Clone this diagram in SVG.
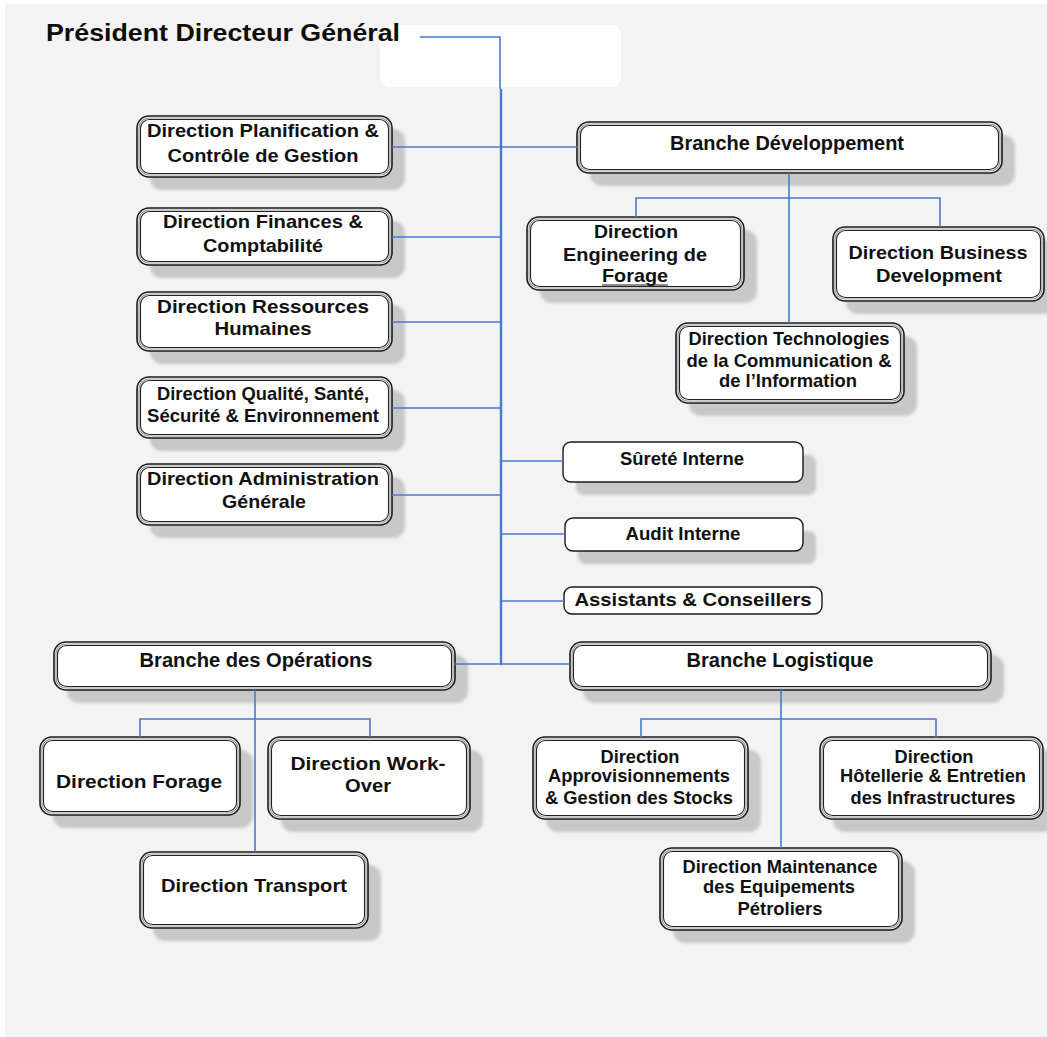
<svg xmlns="http://www.w3.org/2000/svg" width="1047" height="1037" viewBox="0 0 1047 1037">
<defs>
<filter id="blur" x="-10%" y="-10%" width="120%" height="130%"><feGaussianBlur stdDeviation="1.5"/></filter>
<style>
.bg{fill:#f3f3f3}
.sh{fill:#c8c8c8;filter:url(#blur)}
.o{fill:#fff;stroke:#1a1a1a;stroke-width:1.6}
.m{fill:none;stroke:#9a9a9a;stroke-width:1.2}
.i{fill:none;stroke:#222;stroke-width:1.1}
.s{fill:#fff;stroke:#1a1a1a;stroke-width:1.4}
text{font-family:"Liberation Sans",Arial,sans-serif;font-weight:bold;fill:#111;text-anchor:middle;font-size:18.5px}
.t{font-size:23px;text-anchor:start;fill:#0d0d0d}
.b{font-size:19.5px}
.c{fill:none;stroke:#4a7acb;stroke-width:1.6}
.tr{fill:none;stroke:#4a7acb;stroke-width:2.4}
</style>
</defs>
<rect x="0" y="0" width="1047" height="1037" fill="#fff"/>
<rect class="bg" x="5" y="4" width="1042" height="1033"/>
<rect x="380" y="25" width="241" height="62" rx="9" fill="#fff"/>

<text class="t" x="46" y="41" textLength="354" lengthAdjust="spacingAndGlyphs">Président Directeur Général</text>

<g id="planification">
<rect class="sh" x="150" y="129" width="255" height="61" rx="12"/>
<rect class="o" x="137" y="116" width="255" height="61" rx="12"/>
<rect class="m" x="139" y="118" width="251" height="57" rx="10"/>
<rect class="i" x="140.5" y="119.5" width="248" height="54" rx="9"/>
<text x="263" y="137" textLength="232" lengthAdjust="spacingAndGlyphs">Direction Planification &amp;</text>
<text x="263" y="162" textLength="191" lengthAdjust="spacingAndGlyphs">Contrôle de Gestion</text>
</g>

<g id="finances">
<rect class="sh" x="150" y="221" width="255" height="57" rx="12"/>
<rect class="o" x="137" y="208" width="255" height="57" rx="12"/>
<rect class="m" x="139" y="210" width="251" height="53" rx="10"/>
<rect class="i" x="140.5" y="211.5" width="248" height="50" rx="9"/>
<text x="263" y="228" textLength="200" lengthAdjust="spacingAndGlyphs">Direction Finances &amp;</text>
<text x="263" y="252" textLength="120" lengthAdjust="spacingAndGlyphs">Comptabilité</text>
</g>

<g id="ressources-humaines">
<rect class="sh" x="150" y="305" width="255" height="59" rx="12"/>
<rect class="o" x="137" y="292" width="255" height="59" rx="12"/>
<rect class="m" x="139" y="294" width="251" height="55" rx="10"/>
<rect class="i" x="140.5" y="295.5" width="248" height="52" rx="9"/>
<text x="263" y="313" textLength="212" lengthAdjust="spacingAndGlyphs">Direction  Ressources</text>
<text x="263" y="335" textLength="97" lengthAdjust="spacingAndGlyphs">Humaines</text>
</g>

<g id="qsse">
<rect class="sh" x="150" y="390" width="255" height="61" rx="12"/>
<rect class="o" x="137" y="377" width="255" height="61" rx="12"/>
<rect class="m" x="139" y="379" width="251" height="57" rx="10"/>
<rect class="i" x="140.5" y="380.5" width="248" height="54" rx="9"/>
<text x="263" y="400" textLength="212" lengthAdjust="spacingAndGlyphs">Direction Qualité, Santé,</text>
<text x="263" y="422" textLength="232" lengthAdjust="spacingAndGlyphs">Sécurité &amp; Environnement</text>
</g>

<g id="administration">
<rect class="sh" x="150" y="477" width="255" height="61" rx="12"/>
<rect class="o" x="137" y="464" width="255" height="61" rx="12"/>
<rect class="m" x="139" y="466" width="251" height="57" rx="10"/>
<rect class="i" x="140.5" y="467.5" width="248" height="54" rx="9"/>
<text x="263" y="485" textLength="232" lengthAdjust="spacingAndGlyphs">Direction Administration</text>
<text x="264" y="508" textLength="84" lengthAdjust="spacingAndGlyphs">Générale</text>
</g>

<g id="branche-developpement">
<rect class="sh" x="590" y="135" width="425" height="51" rx="12"/>
<rect class="o" x="577" y="122" width="425" height="51" rx="12"/>
<rect class="m" x="579" y="124" width="421" height="47" rx="10"/>
<rect class="i" x="580.5" y="125.5" width="418" height="44" rx="9"/>
<text class="b" x="787" y="150" textLength="234" lengthAdjust="spacingAndGlyphs">Branche Développement</text>
</g>

<g id="engineering-forage">
<rect class="sh" x="540" y="230" width="217" height="73" rx="12"/>
<rect class="o" x="527" y="217" width="217" height="73" rx="12"/>
<rect class="m" x="529" y="219" width="213" height="69" rx="10"/>
<rect class="i" x="530.5" y="220.5" width="210" height="66" rx="9"/>
<text x="636" y="238" textLength="84" lengthAdjust="spacingAndGlyphs">Direction</text>
<text x="635" y="261" textLength="144" lengthAdjust="spacingAndGlyphs">Engineering de</text>
<text x="635" y="282" textLength="66" lengthAdjust="spacingAndGlyphs">Forage</text>
<line x1="602" y1="285" x2="668" y2="285" stroke="#1a1a1a" stroke-width="1.2"/>
</g>

<g id="business-development">
<rect class="sh" x="846" y="240" width="211" height="74" rx="12"/>
<rect class="o" x="833" y="227" width="211" height="74" rx="12"/>
<rect class="m" x="835" y="229" width="207" height="70" rx="10"/>
<rect class="i" x="836.5" y="230.5" width="204" height="67" rx="9"/>
<text x="938" y="259" textLength="179" lengthAdjust="spacingAndGlyphs">Direction Business</text>
<text x="939" y="282" textLength="126" lengthAdjust="spacingAndGlyphs">Development</text>
</g>

<g id="technologies">
<rect class="sh" x="689" y="336" width="228" height="80" rx="12"/>
<rect class="o" x="676" y="323" width="228" height="80" rx="12"/>
<rect class="m" x="678" y="325" width="224" height="76" rx="10"/>
<rect class="i" x="679.5" y="326.5" width="221" height="73" rx="9"/>
<text x="789" y="345" textLength="201" lengthAdjust="spacingAndGlyphs">Direction Technologies</text>
<text x="789" y="367" textLength="205" lengthAdjust="spacingAndGlyphs">de la Communication &amp;</text>
<text x="788" y="387" textLength="138" lengthAdjust="spacingAndGlyphs">de l’Information</text>
</g>

<g id="surete-interne">
<rect class="sh" x="576" y="455" width="240" height="40" rx="8"/>
<rect class="s" x="563" y="442" width="240" height="40" rx="8"/>
<text x="682" y="465" textLength="124" lengthAdjust="spacingAndGlyphs">Sûreté Interne</text>
</g>

<g id="audit-interne">
<rect class="sh" x="578" y="531" width="238" height="33" rx="8"/>
<rect class="s" x="565" y="518" width="238" height="33" rx="8"/>
<text x="683" y="540" textLength="115" lengthAdjust="spacingAndGlyphs">Audit Interne</text>
</g>

<g id="assistants-conseillers">
<rect class="s" x="564" y="587" width="258" height="27" rx="8"/>
<text x="693" y="606" textLength="237" lengthAdjust="spacingAndGlyphs">Assistants &amp; Conseillers</text>
</g>

<g id="branche-operations">
<rect class="sh" x="67" y="655" width="401" height="48" rx="12"/>
<rect class="o" x="54" y="642" width="401" height="48" rx="12"/>
<rect class="m" x="56" y="644" width="397" height="44" rx="10"/>
<rect class="i" x="57.5" y="645.5" width="394" height="41" rx="9"/>
<text class="b" x="256" y="667" textLength="233" lengthAdjust="spacingAndGlyphs">Branche des Opérations</text>
</g>

<g id="branche-logistique">
<rect class="sh" x="583" y="655" width="421" height="48" rx="12"/>
<rect class="o" x="570" y="642" width="421" height="48" rx="12"/>
<rect class="m" x="572" y="644" width="417" height="44" rx="10"/>
<rect class="i" x="573.5" y="645.5" width="414" height="41" rx="9"/>
<text class="b" x="780" y="667" textLength="187" lengthAdjust="spacingAndGlyphs">Branche Logistique</text>
</g>

<g id="direction-forage">
<rect class="sh" x="53" y="750" width="200" height="78" rx="12"/>
<rect class="o" x="40" y="737" width="200" height="78" rx="12"/>
<rect class="m" x="42" y="739" width="196" height="74" rx="10"/>
<rect class="i" x="43.5" y="740.5" width="193" height="71" rx="9"/>
<text x="139" y="788" textLength="166" lengthAdjust="spacingAndGlyphs">Direction  Forage</text>
</g>

<g id="direction-work-over">
<rect class="sh" x="281" y="750" width="202" height="82" rx="12"/>
<rect class="o" x="268" y="737" width="202" height="82" rx="12"/>
<rect class="m" x="270" y="739" width="198" height="78" rx="10"/>
<rect class="i" x="271.5" y="740.5" width="195" height="75" rx="9"/>
<text x="368" y="770" textLength="155" lengthAdjust="spacingAndGlyphs">Direction  Work-</text>
<text x="368" y="792" textLength="46" lengthAdjust="spacingAndGlyphs">Over</text>
</g>

<g id="direction-transport">
<rect class="sh" x="153" y="865" width="228" height="76" rx="12"/>
<rect class="o" x="140" y="852" width="228" height="76" rx="12"/>
<rect class="m" x="142" y="854" width="224" height="72" rx="10"/>
<rect class="i" x="143.5" y="855.5" width="221" height="69" rx="9"/>
<text x="254" y="892" textLength="186" lengthAdjust="spacingAndGlyphs">Direction Transport</text>
</g>

<g id="approvisionnements">
<rect class="sh" x="546" y="750" width="215" height="82" rx="12"/>
<rect class="o" x="533" y="737" width="215" height="82" rx="12"/>
<rect class="m" x="535" y="739" width="211" height="78" rx="10"/>
<rect class="i" x="536.5" y="740.5" width="208" height="75" rx="9"/>
<text x="640" y="763" textLength="79" lengthAdjust="spacingAndGlyphs">Direction</text>
<text x="639" y="782" textLength="182" lengthAdjust="spacingAndGlyphs">Approvisionnements</text>
<text x="639" y="804" textLength="188" lengthAdjust="spacingAndGlyphs">&amp; Gestion des Stocks</text>
</g>

<g id="hotellerie">
<rect class="sh" x="833" y="750" width="223" height="82" rx="12"/>
<rect class="o" x="820" y="737" width="223" height="82" rx="12"/>
<rect class="m" x="822" y="739" width="219" height="78" rx="10"/>
<rect class="i" x="823.5" y="740.5" width="216" height="75" rx="9"/>
<text x="934" y="763" textLength="79" lengthAdjust="spacingAndGlyphs">Direction</text>
<text x="933" y="782" textLength="186" lengthAdjust="spacingAndGlyphs">Hôtellerie &amp; Entretien</text>
<text x="933" y="804" textLength="165" lengthAdjust="spacingAndGlyphs">des Infrastructures</text>
</g>

<g id="maintenance">
<rect class="sh" x="673" y="861" width="242" height="82" rx="12"/>
<rect class="o" x="660" y="848" width="242" height="82" rx="12"/>
<rect class="m" x="662" y="850" width="238" height="78" rx="10"/>
<rect class="i" x="663.5" y="851.5" width="235" height="75" rx="9"/>
<text x="780" y="873" textLength="195" lengthAdjust="spacingAndGlyphs">Direction Maintenance</text>
<text x="779" y="893" textLength="152" lengthAdjust="spacingAndGlyphs">des Equipements</text>
<text x="780" y="915" textLength="85" lengthAdjust="spacingAndGlyphs">Pétroliers</text>
</g>

<g id="connectors">
<path class="c" d="M420,37 H500 V89"/>
<path class="tr" d="M501,89 V665"/>
<path class="c" d="M392,147 H577"/>
<path class="c" d="M392,237 H501"/>
<path class="c" d="M392,322 H501"/>
<path class="c" d="M392,408 H501"/>
<path class="c" d="M392,495 H501"/>
<path class="c" d="M501,461 H563"/>
<path class="c" d="M501,534 H565"/>
<path class="c" d="M501,601 H564"/>
<path class="c" d="M455,664 H570"/>
<path class="c" d="M789,173 V323"/>
<path class="c" d="M636,217 V198 H940 V227"/>
<path class="c" d="M255,690 V852"/>
<path class="c" d="M140,737 V719 H370 V737"/>
<path class="c" d="M781,690 V848"/>
<path class="c" d="M641,737 V719 H936 V737"/>
</g>
</svg>
